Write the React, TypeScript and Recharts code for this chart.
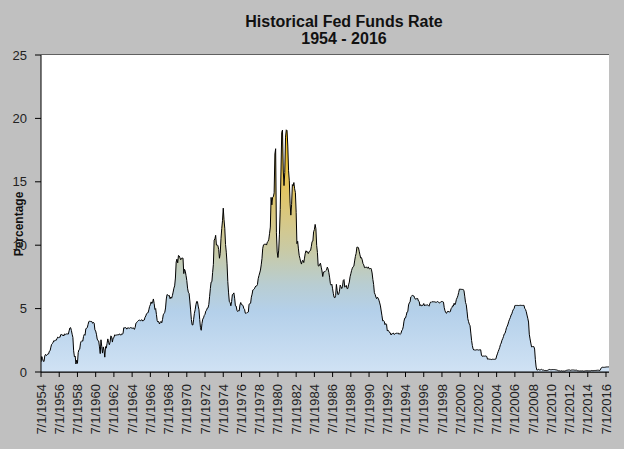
import { AreaChart, Area, XAxis, YAxis, CartesianGrid } from "recharts";

// monthly effective fed funds rate, starting 7/1/1954
const rates1954 = [0.8, 1.22, 1.07, 0.85, 0.83, 1.28];
const rates1955to1959 = [
  1.39, 1.29, 1.35, 1.43, 1.43, 1.64, 1.68, 1.96, 2.18, 2.24, 2.35, 2.48,
  2.45, 2.5, 2.5, 2.62, 2.75, 2.71, 2.75, 2.73, 2.95, 2.96, 2.88, 2.94,
  2.84, 3.0, 2.96, 3.0, 3.0, 3.0, 2.99, 3.24, 3.47, 3.5, 3.28, 2.98,
  2.72, 1.67, 1.2, 1.26, 0.63, 0.93, 0.68, 1.53, 1.76, 1.8, 2.27, 2.42,
  2.48, 2.43, 2.8, 2.96, 2.9, 3.39, 3.47, 3.5, 3.76, 3.98, 4.0, 3.99,
];
const rates1960s = [
  3.99, 3.97, 3.84, 3.92, 3.85, 3.32, 3.23, 2.98, 2.6, 2.47, 2.44, 1.98,
  1.45, 2.54, 2.02, 1.49, 1.98, 1.73, 1.17, 2.0, 1.88, 2.26, 2.61, 2.33,
  2.15, 2.37, 2.85, 2.78, 2.36, 2.68, 2.71, 2.93, 2.9, 2.9, 2.94, 2.93,
  2.92, 3.0, 2.98, 2.9, 3.0, 2.99, 3.02, 3.49, 3.48, 3.5, 3.48, 3.38,
  3.48, 3.48, 3.43, 3.47, 3.5, 3.5, 3.42, 3.5, 3.45, 3.36, 3.52, 3.85,
  3.9, 3.98, 4.04, 4.09, 4.1, 4.04, 4.09, 4.12, 4.01, 4.08, 4.1, 4.32,
  4.42, 4.6, 4.65, 4.67, 4.9, 5.17, 5.3, 5.53, 5.4, 5.53, 5.76, 5.4,
  4.94, 5.0, 4.53, 4.05, 3.94, 3.98, 3.79, 3.9, 3.99, 3.88, 4.13, 4.51,
  4.61, 4.71, 5.05, 5.76, 6.11, 6.07, 6.02, 6.03, 5.78, 5.91, 5.82, 6.02,
  6.3, 6.61, 6.79, 7.41, 8.67, 8.9, 8.61, 9.19, 9.15, 9.0, 8.85, 8.97,
];
const rates1970s = [
  8.98, 8.98, 7.76, 8.1, 7.95, 7.61, 7.21, 6.61, 6.29, 6.2, 5.6, 4.9,
  4.14, 3.72, 3.71, 4.16, 4.63, 4.91, 5.31, 5.56, 5.55, 5.2, 4.91, 4.14,
  3.5, 3.29, 3.83, 4.17, 4.27, 4.46, 4.55, 4.8, 4.87, 5.04, 5.06, 5.33,
  5.94, 6.58, 7.09, 7.12, 7.84, 8.49, 10.4, 10.5, 10.78, 10.01, 10.03, 9.95,
  9.65, 8.97, 9.35, 10.51, 11.31, 11.93, 12.92, 12.01, 11.34, 10.06, 9.45, 8.53,
  7.13, 6.24, 5.54, 5.49, 5.22, 5.55, 6.1, 6.14, 6.24, 5.82, 5.22, 5.2,
  4.87, 4.77, 4.84, 4.82, 5.29, 5.48, 5.31, 5.29, 5.25, 5.02, 4.95, 4.65,
  4.61, 4.68, 4.69, 4.73, 5.35, 5.39, 5.42, 5.9, 6.14, 6.47, 6.51, 6.56,
  6.7, 6.78, 6.79, 6.89, 7.36, 7.6, 7.81, 8.04, 8.45, 8.96, 9.76, 10.03,
  10.07, 10.06, 10.09, 10.01, 10.24, 10.29, 10.47, 10.94, 11.43, 13.77, 13.18, 13.78,
];
const rates1980s = [
  13.82, 14.13, 17.19, 17.61, 10.98, 9.47, 9.03, 9.61, 10.87, 12.81, 15.85, 18.9,
  19.08, 15.93, 14.7, 15.72, 18.52, 19.1, 19.04, 17.82, 15.87, 15.08, 13.31, 12.37,
  13.22, 14.78, 14.68, 14.94, 14.45, 14.15, 12.59, 10.12, 10.31, 9.71, 9.2, 8.95,
  8.68, 8.51, 8.77, 8.8, 8.63, 8.98, 9.37, 9.56, 9.45, 9.48, 9.34, 9.47,
  9.56, 9.59, 9.91, 10.29, 10.32, 11.06, 11.23, 11.64, 11.3, 9.99, 9.43, 8.38,
  8.35, 8.5, 8.58, 8.27, 7.97, 7.53, 7.88, 7.9, 7.92, 7.99, 8.05, 8.27,
  8.14, 7.86, 7.48, 6.99, 6.85, 6.92, 6.56, 6.17, 5.89, 5.85, 6.04, 6.91,
  6.43, 6.1, 6.13, 6.37, 6.85, 6.73, 6.58, 6.73, 7.22, 7.29, 6.69, 6.77,
  6.83, 6.58, 6.58, 6.87, 7.09, 7.51, 7.75, 8.01, 8.19, 8.3, 8.35, 8.76,
  9.12, 9.36, 9.85, 9.84, 9.81, 9.53, 9.24, 8.99, 9.02, 8.84, 8.55, 8.45,
];
const rates1990s = [
  8.23, 8.24, 8.28, 8.26, 8.18, 8.29, 8.15, 8.13, 8.2, 8.11, 7.81, 7.31,
  6.91, 6.25, 6.12, 5.91, 5.78, 5.9, 5.82, 5.66, 5.45, 5.21, 4.81, 4.43,
  4.03, 4.06, 3.98, 3.73, 3.82, 3.76, 3.25, 3.3, 3.22, 3.1, 3.09, 2.92,
  3.02, 3.03, 3.07, 2.96, 3.0, 3.04, 3.06, 3.03, 3.09, 2.99, 3.02, 2.96,
  3.05, 3.25, 3.34, 3.56, 4.01, 4.25, 4.26, 4.47, 4.73, 4.76, 5.29, 5.45,
  5.53, 5.92, 5.98, 6.05, 6.01, 6.0, 5.85, 5.74, 5.8, 5.76, 5.8, 5.6,
  5.56, 5.22, 5.31, 5.22, 5.24, 5.27, 5.4, 5.22, 5.3, 5.24, 5.31, 5.29,
  5.25, 5.19, 5.39, 5.51, 5.5, 5.56, 5.52, 5.54, 5.54, 5.5, 5.52, 5.5,
  5.56, 5.51, 5.49, 5.45, 5.49, 5.56, 5.54, 5.55, 5.51, 5.07, 4.83, 4.68,
  4.63, 4.76, 4.81, 4.74, 4.74, 4.76, 4.99, 5.07, 5.22, 5.2, 5.42, 5.3,
];
const rates2000s = [
  5.45, 5.73, 5.85, 6.02, 6.27, 6.53, 6.54, 6.5, 6.52, 6.51, 6.51, 6.4,
  5.98, 5.49, 5.31, 4.8, 4.21, 3.97, 3.77, 3.65, 3.07, 2.49, 2.09, 1.82,
  1.73, 1.74, 1.73, 1.75, 1.75, 1.75, 1.73, 1.74, 1.75, 1.75, 1.34, 1.24,
  1.24, 1.26, 1.25, 1.26, 1.26, 1.22, 1.01, 1.03, 1.01, 1.01, 1.0, 0.98,
  1.0, 1.01, 1.0, 1.0, 1.0, 1.03, 1.26, 1.43, 1.61, 1.76, 1.93, 2.16,
  2.28, 2.5, 2.63, 2.79, 3.0, 3.04, 3.26, 3.5, 3.62, 3.78, 4.0, 4.16,
  4.29, 4.49, 4.59, 4.79, 4.94, 4.99, 5.24, 5.25, 5.25, 5.25, 5.25, 5.24,
  5.25, 5.26, 5.26, 5.25, 5.25, 5.25, 5.26, 5.02, 4.94, 4.76, 4.49, 4.24,
  3.94, 2.98, 2.61, 2.28, 1.98, 2.0, 2.01, 2.0, 1.81, 0.97, 0.39, 0.16,
  0.15, 0.22, 0.18, 0.15, 0.18, 0.21, 0.16, 0.16, 0.15, 0.12, 0.12, 0.12,
];
const rates2010s = [
  0.11, 0.13, 0.16, 0.2, 0.2, 0.18, 0.18, 0.19, 0.19, 0.19, 0.19, 0.18,
  0.17, 0.16, 0.14, 0.1, 0.09, 0.09, 0.07, 0.1, 0.08, 0.07, 0.08, 0.07,
  0.08, 0.1, 0.13, 0.14, 0.16, 0.16, 0.16, 0.13, 0.14, 0.16, 0.16, 0.16,
  0.14, 0.15, 0.14, 0.15, 0.11, 0.09, 0.09, 0.08, 0.08, 0.09, 0.08, 0.09,
  0.07, 0.07, 0.08, 0.09, 0.09, 0.1, 0.09, 0.09, 0.09, 0.09, 0.09, 0.12,
  0.11, 0.11, 0.11, 0.12, 0.12, 0.13, 0.13, 0.14, 0.14, 0.12, 0.12, 0.24,
  0.34, 0.38, 0.36, 0.37, 0.37, 0.38, 0.39, 0.4, 0.4, 0.4, 0.41,
];

const yTicks = [0, 5, 10, 15, 20, 25];
const xTickYears = [
  1954, 1956, 1958, 1960, 1962, 1964, 1966, 1968, 1970, 1972, 1974, 1976, 1978, 1980, 1982, 1984,
  1986, 1988, 1990, 1992, 1994, 1996, 1998, 2000, 2002, 2004, 2006, 2008, 2010, 2012, 2014, 2016,
];

const allRates = [
  ...rates1954,
  ...rates1955to1959,
  ...rates1960s,
  ...rates1970s,
  ...rates1980s,
  ...rates1990s,
  ...rates2000s,
  ...rates2010s,
];
const data = allRates.map((rate, i) => ({ t: 1954.5 + i / 12, rate }));

const XTick = ({ x, y, payload }: any) => (
  <text
    x={x}
    y={y + 5}
    dy="0.35em"
    transform={`rotate(-90 ${x} ${y + 5})`}
    textAnchor="end"
    fontSize={13}
    fill="#222"
    fontFamily="Arial, 'Liberation Sans', sans-serif"
  >
    {`7/1/${Math.floor(payload.value)}`}
  </text>
);

export default function App() {
  return (
    <div
      style={{
        position: "fixed",
        left: 0,
        top: 0,
        width: 624,
        height: 449,
        background: "#c0c0c0",
        fontFamily: "Arial, 'Liberation Sans', sans-serif",
      }}
    >
      <div
        style={{
          position: "absolute",
          left: 194,
          top: 13,
          width: 300,
          textAlign: "center",
          fontWeight: "bold",
          fontSize: 16,
          lineHeight: "17px",
          color: "#111",
        }}
      >
        <div>Historical Fed Funds Rate</div>
        <div>1954 - 2016</div>
      </div>
      <AreaChart
        width={624}
        height={449}
        data={data}
        margin={{ top: 55, right: 15, left: 0, bottom: 0 }}
        style={{ position: "absolute", left: 0, top: 0 }}
      >
        <defs>
          <linearGradient id="rateFill" x1="0" y1="0" x2="0" y2="1">
            <stop offset="0" stopColor="#f6c00a" />
            <stop offset="0.2" stopColor="#e6c456" />
            <stop offset="0.38" stopColor="#d6c888" />
            <stop offset="0.5" stopColor="#c8caa6" />
            <stop offset="0.64" stopColor="#b8cdd2" />
            <stop offset="0.75" stopColor="#b4d0ea" />
            <stop offset="1" stopColor="#d0e2f4" />
          </linearGradient>
        </defs>
        <rect x={41} y={55} width={568} height={317} fill="#fff" />
        <CartesianGrid vertical={false} stroke="#000" strokeWidth={1} />
        <XAxis
          dataKey="t"
          type="number"
          domain={[1954.5, 2016.83]}
          ticks={xTickYears.map((y) => y + 0.5)}
          interval={0}
          height={77}
          tick={<XTick />}
          tickSize={5}
          axisLine={{ stroke: "#000" }}
          tickLine={{ stroke: "#000" }}
          allowDataOverflow
        />
        <YAxis
          domain={[0, 25]}
          ticks={yTicks}
          width={41}
          tickSize={6}
          tickMargin={8}
          tick={{ fontSize: 13, fill: "#222" }}
          axisLine={{ stroke: "#000" }}
          tickLine={{ stroke: "#000" }}
          label={{
            content: () => (
              <text
                x={19}
                y={224}
                transform="rotate(-90 19 224)"
                textAnchor="middle"
                dy="0.35em"
                fontSize={12}
                fontWeight="bold"
                fill="#111"
                fontFamily="Arial, 'Liberation Sans', sans-serif"
              >
                Percentage
              </text>
            ),
          }}
        />
        <Area
          type="linear"
          dataKey="rate"
          stroke="#000"
          strokeWidth={1}
          fill="url(#rateFill)"
          fillOpacity={1}
          dot={false}
          activeDot={false}
          isAnimationActive={false}
        />
      </AreaChart>
    </div>
  );
}
